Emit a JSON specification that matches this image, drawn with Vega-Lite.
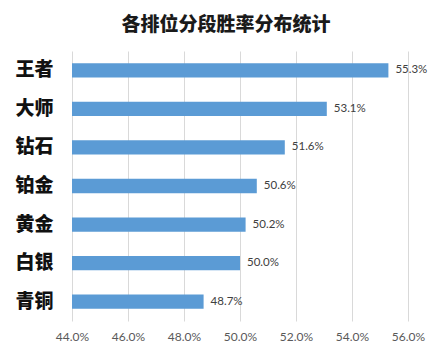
{
  "$schema": "https://vega.github.io/schema/vega-lite/v6.json",
  "width": 336,
  "height": 270,
  "autosize": {"type": "none"},
  "padding": {"left": 72, "top": 51, "right": 29, "bottom": 31},
  "background": "#ffffff",
  "title": {
    "text": "各排位分段胜率分布统计",
    "anchor": "middle",
    "dx": -14,
    "offset": 16,
    "font": "Noto Sans CJK SC",
    "fontSize": 19,
    "fontWeight": 900,
    "color": "#1a1a1a"
  },
  "data": {
    "values": [
      {"rank": "王者", "rate": 0.553},
      {"rank": "大师", "rate": 0.531},
      {"rank": "钻石", "rate": 0.516},
      {"rank": "铂金", "rate": 0.506},
      {"rank": "黄金", "rate": 0.502},
      {"rank": "白银", "rate": 0.500},
      {"rank": "青铜", "rate": 0.487}
    ]
  },
  "encoding": {
    "y": {
      "field": "rank",
      "type": "nominal",
      "sort": null,
      "scale": {"paddingInner": 0.63, "paddingOuter": 0.32},
      "axis": {
        "title": null,
        "ticks": false,
        "domain": false,
        "labelPadding": 19,
        "labelFont": "Noto Sans CJK SC",
        "labelFontSize": 19,
        "labelFontWeight": 900,
        "labelColor": "#111111"
      }
    }
  },
  "layer": [
    {
      "mark": {"type": "bar", "color": "#5b9bd5", "clip": true},
      "encoding": {
        "x": {
          "field": "rate",
          "type": "quantitative",
          "scale": {"domain": [0.44, 0.56], "zero": false, "nice": false},
          "axis": {
            "title": null,
            "format": ".1%",
            "values": [0.44, 0.46, 0.48, 0.50, 0.52, 0.54, 0.56],
            "domain": false,
            "ticks": false,
            "grid": true,
            "gridColor": "#d9d9d9",
            "labelFlush": false,
            "labelOverlap": false,
            "labelFont": "Lato",
            "labelFontSize": 12,
            "labelColor": "#595959",
            "labelPadding": 10
          }
        },
        "x2": {"datum": 0.44}
      }
    },
    {
      "mark": {"type": "text", "align": "left", "dx": 7, "font": "Lato", "fontSize": 11.5, "color": "#404040"},
      "encoding": {
        "x": {"field": "rate", "type": "quantitative"},
        "text": {"field": "rate", "type": "quantitative", "format": ".1%"}
      }
    }
  ],
  "config": {
    "view": {"stroke": null}
  }
}
